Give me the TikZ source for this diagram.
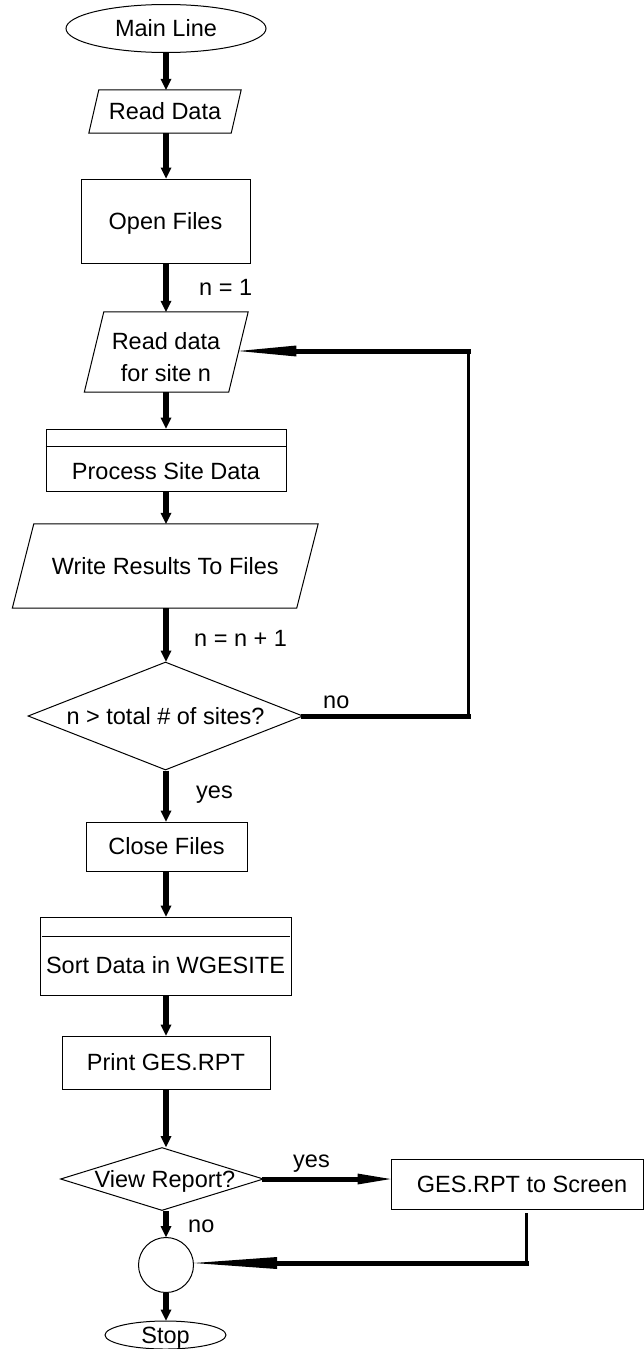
\documentclass[tikz,border=0pt]{standalone}
\usepackage{fontspec}
\setmainfont{Liberation Sans}
\usetikzlibrary{shapes.geometric,arrows.meta,calc}
\tikzset{
  thinln/.style={draw=black, line width=1pt},
  rectbox/.style={rectangle, thinln, inner sep=0pt, text height=16.5pt, text depth=0pt},
  ellnode/.style={ellipse, thinln, inner sep=0pt, text height=16.5pt, text depth=0pt},
  paranode/.style={rectangle, inner sep=0pt, text height=16.5pt, text depth=0pt},
  dianode/.style={diamond, thinln, inner sep=0pt, text height=16.5pt, text depth=0pt},
  lbl/.style={anchor=base west, inner sep=0pt},
  varr/.style={line width=5.5pt, -{Triangle[length=11pt,width=11pt,line width=0pt]}},
  hline/.style={line width=5pt, line cap=rect},
  vline/.style={line width=3pt, line cap=rect}
}
\newcommand{\drawpara}[2]{\draw[thinln] ($(#1.south west)+(-#2,0)$) -- ($(#1.south east)+(-#2,0)$) -- ($(#1.north east)+(#2,0)$) -- ($(#1.north west)+(#2,0)$) -- cycle;}
\begin{document}
\begin{tikzpicture}[x=1pt, y=-1pt, font=\fontsize{23.5pt}{28pt}\selectfont]
\fill[white] (0,0) rectangle (644,1349);
\useasboundingbox (0,0) rectangle (644,1349);
\coordinate (col) at (166,0);

% main column
\node[ellnode, minimum width=200pt, minimum height=48pt] (main) at (166,28.5) {Main Line};
\node[paranode, minimum width=142pt, minimum height=43pt] (rd) at (165,111.5) {Read Data};
\drawpara{rd}{5}
\node[rectbox, minimum width=169pt, minimum height=84pt] (open) at (165.5,221) {Open Files};
\node[paranode, minimum width=144pt, minimum height=80pt] (rdn) at (166.25,352) {};
\drawpara{rdn}{9.75}
\node[inner sep=0pt, align=center, font=\fontsize{23.5pt}{32pt}\selectfont] (rdnt) at (166,357.5) {Read data\\for site n};
\node[rectbox, minimum width=240pt, minimum height=62pt, text height=38.5pt] (proc) at (166,460) {Process Site Data};
\draw[thinln] ($(proc.north west)+(0,18)$) -- ($(proc.north east)+(0,18)$);
\node[paranode, minimum width=284pt, minimum height=84pt] (wr) at (165.25,566) {Write Results To Files};
\drawpara{wr}{10.75}
\node[dianode, minimum width=275pt, minimum height=108pt] (d1) at (165.5,716) {\makebox[0pt]{n > total \# of sites?}};
\node[rectbox, minimum width=161pt, minimum height=49pt] (close) at (166.5,846.5) {Close Files};
\node[rectbox, minimum width=251pt, minimum height=78pt, text height=34.5pt] (sort) at (165.5,956) {Sort Data in WGESITE};
\draw[thinln] ($(sort.north west)+(2,20)$) -- ($(sort.north east)+(-2,20)$);
\node[rectbox, minimum width=208pt, minimum height=53pt] (print) at (166,1062.5) {Print GES.RPT};
\node[dianode, minimum width=203pt, minimum height=63pt] (d2) at (162,1179) {\makebox[0pt]{\hspace*{6pt}View Report?}};
\node[rectbox, minimum width=252pt, minimum height=50pt] (ges) at (517,1184) {\hspace*{10pt}GES.RPT to Screen};
\node[circle, thinln, inner sep=0pt, minimum size=55pt] (circ) at (166,1265) {};
\node[ellnode, minimum width=121pt, minimum height=28pt] (stop) at (165.5,1335) {Stop};

% vertical arrows
\draw[varr] (main.south -| col) -- (rd.north -| col);
\draw[varr] (rd.south -| col) -- (open.north -| col);
\draw[varr] (open.south -| col) -- (rdn.north -| col);
\draw[varr] (rdn.south -| col) -- (proc.north -| col);
\draw[varr] (proc.south -| col) -- (wr.north -| col);
\draw[varr] (wr.south -| col) -- (d1.north -| col);
\draw[varr] (d1.south -| col) -- (close.north -| col);
\draw[varr] (close.south -| col) -- (sort.north -| col);
\draw[varr] (sort.south -| col) -- (print.north -| col);
\draw[varr] (print.south -| col) -- (d2.north -| col);
\draw[varr] (d2.south -| col) -- (circ.north -| col);
\draw[varr] (circ.south -| col) -- (stop.north -| col);

% loop back
\coordinate (lb) at (468,716);
\coordinate (lt) at (468,351);
\draw[hline] (d1.east) -- (lb);
\draw[vline] (lb) -- (lt);
\draw[hline, -{Triangle[length=58pt,width=11pt,line width=0pt]}] (lt) -- (lt -| rdn.east);

% yes branch
\draw[hline, -{Triangle[length=33pt,width=11pt,line width=0pt]}] (d2.east) -- (d2.east -| ges.west);
\coordinate (rs) at (526,1214);
\coordinate (rc) at (526,1263);
\draw[vline] (rs) -- (rc);
\draw[hline, -{Triangle[length=83pt,width=12pt,line width=0pt]}] (rc) -- (rc -| circ.east);

% labels
\node[lbl] (l1) at (199,295) {n = 1};
\node[lbl] (l2) at (194,646) {n = n + 1};
\node[lbl] (l3) at (196,798) {yes};
\node[lbl] (l4) at (323,708) {no};
\node[lbl] (l5) at (293,1167) {yes};
\node[lbl] (l6) at (188,1232) {no};
\end{tikzpicture}
\end{document}
